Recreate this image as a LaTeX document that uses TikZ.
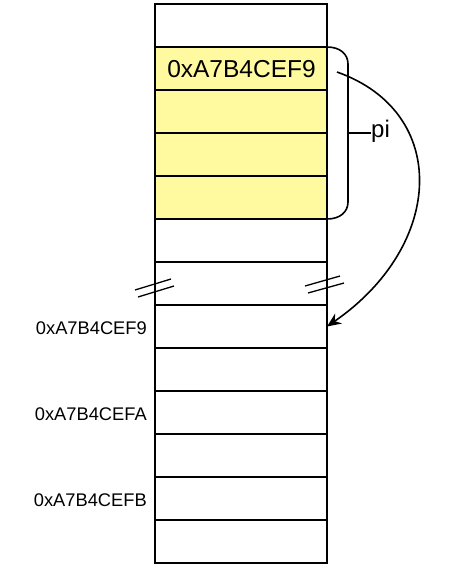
\documentclass[tikz,border=0pt]{standalone}
\usepackage{fontspec}
\setmainfont{Liberation Sans}
\usetikzlibrary{arrows.meta}
\definecolor{cellyellow}{HTML}{FFFAA0}
\begin{document}
\begin{tikzpicture}[x=1pt,y=-1pt,
  cell/.style={draw=black,line width=1.6pt,minimum width=172pt,minimum height=43pt,inner sep=0pt,outer sep=0pt,anchor=north west},
  ycell/.style={cell,fill=cellyellow},
  addr/.style={font=\fontsize{18.3}{18.3}\selectfont,anchor=east,inner sep=0pt},
  brk/.style={line width=1.3pt},
  conn/.style={line width=1.6pt}]
\useasboundingbox (0,0) rectangle (453,566);
% rows
\node[cell]  (r0)  at (155,4)   {};
\node[ycell] (r1)  at (155,47)  {};
\node[ycell] (r2)  at (155,90)  {};
\node[ycell] (r3)  at (155,133) {};
\node[ycell] (r4)  at (155,176) {};
\node[cell]  (r5)  at (155,219) {};
\node[cell]  (r6)  at (155,262) {};
\node[cell]  (r7)  at (155,305) {};
\node[cell]  (r8)  at (155,348) {};
\node[cell]  (r9)  at (155,391) {};
\node[cell]  (r10) at (155,434) {};
\node[cell]  (r11) at (155,477) {};
\node[cell]  (r12) at (155,520) {};
% value in pointer
\node[font=\fontsize{24.5}{24.5}\selectfont,inner sep=0pt] (val) at (241.5,69) {0xA7B4CEF9};
% address labels
\node[addr] (a9) at (147,328) {0xA7B4CEF9};
\node[addr] (aA) at (147,414) {0xA7B4CEFA};
\node[addr] (aB) at (147,500) {0xA7B4CEFB};
% brace
\coordinate (btop) at (r1.north east);
\coordinate (bbot) at (r4.south east);
\draw[conn] (btop) .. controls (340,47) and (348,54) .. (348,64) -- (348,202)
  .. controls (348,212) and (340,219) .. (bbot);
\coordinate (tick) at (348,133);
\node[font=\fontsize{24}{24}\selectfont,anchor=west,inner sep=0pt] (pi) at (371,131) {pi};
\draw[conn] (tick) -- (tick -| pi.west);
% arrow
\coordinate (astart) at (337,72);
\draw[conn,-{Stealth[length=14pt,width=12pt]}] (astart) .. controls (450,112) and (445,245) .. (r7.east);
% break marks
\draw[brk] (135,290) -- (171,279);
\draw[brk] (138,297) -- (174,286);
\draw[brk] (305,286) -- (340,276);
\draw[brk] (308,293) -- (344,283);
\end{tikzpicture}
\end{document}
